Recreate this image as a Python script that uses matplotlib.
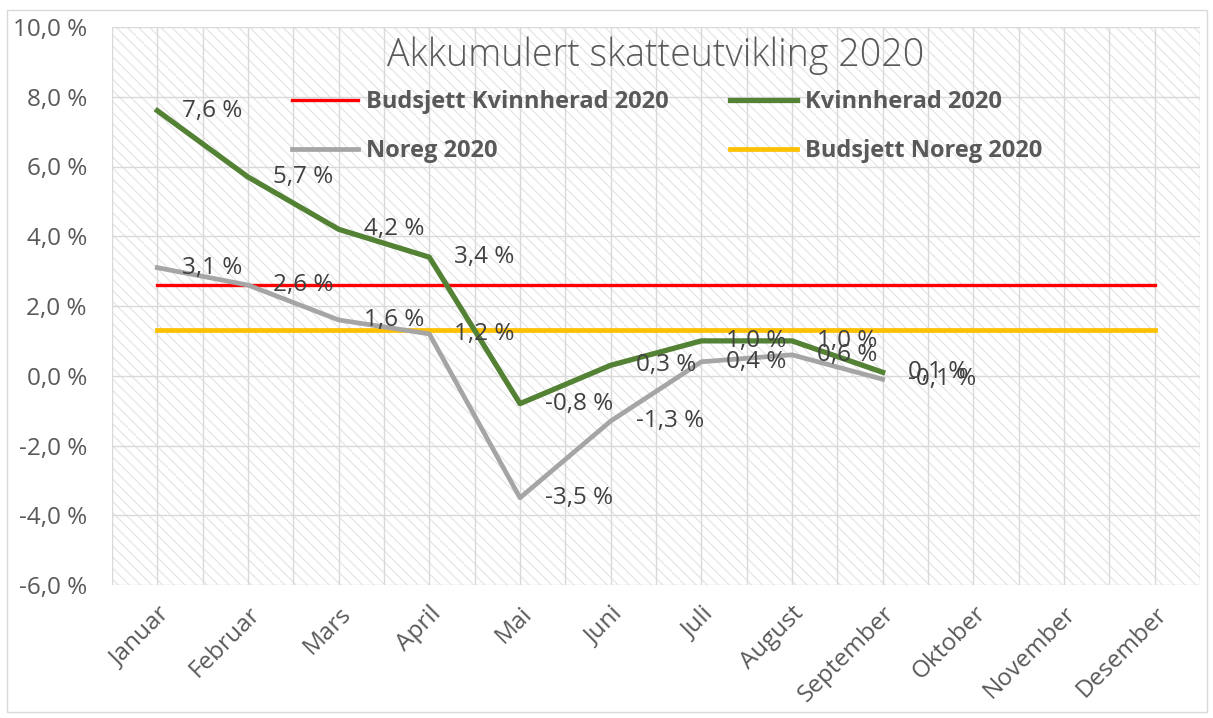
import numpy as np
import matplotlib
import matplotlib.pyplot as plt
from matplotlib.patches import Rectangle
from matplotlib.ticker import FuncFormatter, MultipleLocator

matplotlib.use("Agg")
plt.rcParams["font.family"] = ["Open Sans", "DejaVu Sans"]
plt.rcParams["hatch.linewidth"] = 0.8

months = ["Januar", "Februar", "Mars", "April", "Mai", "Juni", "Juli",
          "August", "September", "Oktober", "November", "Desember"]
kvinnherad = [7.6, 5.7, 4.2, 3.4, -0.8, 0.3, 1.0, 1.0, 0.1]
noreg = [3.1, 2.6, 1.6, 1.2, -3.5, -1.3, 0.4, 0.6, -0.1]
budsjett_kvinnherad = [2.6] * 12
budsjett_noreg = [1.3] * 12

txt = "#595959"


def pct(v, pos=None):
    return f"{v:.1f} %".replace(".", ",")


fig = plt.figure(figsize=(12.13, 7.18), dpi=100)
ax = fig.add_axes([112 / 1213, 1 - 585 / 718, 1088 / 1213, 558 / 718])

# hatched plot area
ax.patch.set_facecolor("white")
ax.patch.set_hatch("\\\\\\")
ax.patch.set_edgecolor("#e3e3e3")
ax.patch.set_linewidth(0)

x = np.arange(len(months))
l_bk, = ax.plot(x, budsjett_kvinnherad, color="#FF0000", lw=2.4,
                label="Budsjett Kvinnherad 2020", zorder=3)
l_bn, = ax.plot(x, budsjett_noreg, color="#FFC000", lw=3.4,
                label="Budsjett Noreg 2020", zorder=3)
l_no, = ax.plot(x[:len(noreg)], noreg, color="#A5A5A5", lw=3.4,
                label="Noreg 2020", zorder=4)
l_kv, = ax.plot(x[:len(kvinnherad)], kvinnherad, color="#548235", lw=3.8,
                label="Kvinnherad 2020", zorder=5)

for xi, v in zip(x, kvinnherad):
    ax.annotate(pct(v), (xi, v), xytext=(18, 0), textcoords="offset points",
                ha="left", va="center", fontsize=17.5, color="#404040", zorder=6)
for xi, v in zip(x, noreg):
    ax.annotate(pct(v), (xi, v), xytext=(18, 0), textcoords="offset points",
                ha="left", va="center", fontsize=17.5, color="#404040", zorder=6)

ax.set_xlim(-0.5, 11.5)
ax.set_ylim(-6, 10)
ax.set_xticks(x)
ax.set_xticks(np.arange(-0.5, 12, 1), minor=True)
ax.set_xticklabels(months, rotation=45, ha="right", rotation_mode="anchor",
                   fontsize=17.5, color=txt)
ax.yaxis.set_major_locator(MultipleLocator(2))
ax.yaxis.set_major_formatter(FuncFormatter(pct))
ax.tick_params(axis="y", length=0, pad=18, labelsize=17.5, labelcolor=txt)
ax.tick_params(axis="x", which="both", length=0, pad=12)
ax.grid(True, which="both", axis="x", color="#d9d9d9", lw=1, zorder=1)
ax.grid(True, which="major", axis="y", color="#d9d9d9", lw=1, zorder=1)
ax.set_axisbelow(True)
for s in ax.spines.values():
    s.set_visible(False)

ax.set_title("Akkumulert skatteutvikling 2020", fontsize=27, color=txt,
             fontweight="light", y=0.915)

ax.legend(handles=[l_bk, l_no, l_kv, l_bn], ncol=2, loc="upper left",
          bbox_to_anchor=(0.146, 0.925), frameon=False,
          prop={"size": 17, "weight": "bold"}, labelcolor=txt,
          handlelength=2.8, handletextpad=0.35, columnspacing=2.6,
          labelspacing=1.05)

fig.patches.append(Rectangle((7 / 1213, 1 - 712 / 718), 1200 / 1213, 702 / 718,
                             transform=fig.transFigure, fill=False,
                             edgecolor="#d9d9d9", lw=1))

plt.savefig("out.png", dpi=100)
